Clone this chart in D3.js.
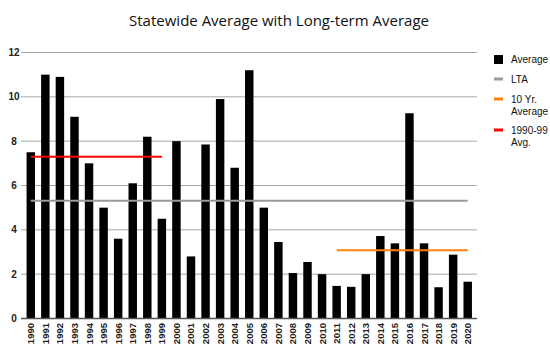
<!DOCTYPE html>
<html>
<head>
    <script src="https://d3js.org/d3.v7.min.js"></script>
    <style>
        body {margin: 0; background: #fff;}
        svg {display: block;}
    </style>
</head>
<body>
    <svg width="550" height="354"></svg>
    <script>
        // data
        let years = d3.range(1990, 2021).map(String);
        let averages = [7.5, 11.0, 10.9, 9.1, 7.0, 5.0, 3.6, 6.1, 8.2, 4.5,
                        8.0, 2.8, 7.85, 9.9, 6.8, 11.2, 5.0, 3.45, 2.05, 2.55,
                        2.0, 1.47, 1.43, 2.0, 3.72, 3.39, 9.26, 3.39, 1.41, 2.88, 1.66];
        let yTicks = [0, 2, 4, 6, 8, 10, 12];
        let lta = 5.31;
        let tenYrAvg = 3.08;
        let nineties = 7.3;

        let svg = d3.select("svg");
        let plotLeft = 21, plotRight = 477, plotTop = 52.5, plotBottom = 318.5;

        let x = d3.scaleBand().domain(years).range([23.5, 475]).paddingInner(0.42).paddingOuter(0.21);
        let y = d3.scaleLinear().domain([0, 12]).range([plotBottom, plotTop]);

        // title
        svg.append("text")
            .attr("x", 279).attr("y", 26)
            .attr("text-anchor", "middle")
            .style("font-family", "'Open Sans', sans-serif")
            .style("font-size", "15px")
            .attr("fill", "#111")
            .text("Statewide Average with Long-term Average");

        // gridlines
        svg.selectAll(".grid")
            .data(yTicks.filter(d => d > 0))
            .enter()
            .append("line")
            .attr("x1", plotLeft).attr("x2", plotRight)
            .attr("y1", d => y(d)).attr("y2", d => y(d))
            .attr("stroke", "#a6a6a6").attr("stroke-width", 1);

        // y tick labels
        svg.selectAll(".ylab")
            .data(yTicks)
            .enter()
            .append("text")
            .attr("x", 14).attr("y", d => y(d) + 3.5)
            .attr("text-anchor", "middle")
            .style("font-family", "'Liberation Sans', Arial, sans-serif")
            .style("font-size", "10px")
            .style("font-weight", "bold")
            .attr("fill", "#222")
            .text(d => d);

        // bars
        svg.selectAll(".bar")
            .data(averages)
            .enter()
            .append("rect")
            .attr("x", (d, i) => x(years[i]))
            .attr("width", x.bandwidth())
            .attr("y", d => y(d))
            .attr("height", d => y(0) - y(d))
            .attr("fill", "#000");

        // x axis line
        svg.append("line")
            .attr("x1", plotLeft).attr("x2", plotRight)
            .attr("y1", plotBottom).attr("y2", plotBottom)
            .attr("stroke", "#555").attr("stroke-width", 1.5);

        // x labels
        svg.selectAll(".xlab")
            .data(years)
            .enter()
            .append("text")
            .attr("transform", d => `translate(${x(d) + x.bandwidth() / 2 + 3.5},${plotBottom + 4.5}) rotate(-90)`)
            .attr("text-anchor", "end")
            .style("font-family", "'Liberation Sans', Arial, sans-serif")
            .style("font-size", "9.5px")
            .style("font-weight", "bold")
            .attr("fill", "#222")
            .text(d => d);

        // average lines
        let cx = d => x(d) + x.bandwidth() / 2;
        let avgLines = [
            {from: "1990", to: "2020", v: lta, color: "#9a9a9a"},
            {from: "2011", to: "2020", v: tenYrAvg, color: "#ff7f0e"},
            {from: "1990", to: "1999", v: nineties, color: "#ff0000"}
        ];
        svg.selectAll(".avg")
            .data(avgLines)
            .enter()
            .append("line")
            .attr("x1", d => cx(d.from)).attr("x2", d => cx(d.to))
            .attr("y1", d => y(d.v)).attr("y2", d => y(d.v))
            .attr("stroke", d => d.color).attr("stroke-width", 2);

        // legend
        let lg = svg.append("g")
            .style("font-family", "'Liberation Sans', Arial, sans-serif")
            .style("font-size", "10px")
            .attr("fill", "#111");
        lg.append("rect").attr("x", 494).attr("y", 55).attr("width", 9).attr("height", 9).attr("fill", "#000");
        lg.append("text").attr("x", 511).attr("y", 63).text("Average");
        let legItems = [
            {y: 79, color: "#9a9a9a", lines: ["LTA"]},
            {y: 99, color: "#ff7f0e", lines: ["10 Yr.", "Average"]},
            {y: 130, color: "#ff0000", lines: ["1990-99", "Avg."]}
        ];
        legItems.forEach(d => {
            lg.append("rect").attr("x", 494).attr("y", d.y - 1.5).attr("width", 9).attr("height", 3).attr("fill", d.color);
            d.lines.forEach((t, k) => {
                lg.append("text").attr("x", 511).attr("y", d.y + 4 + k * 12).text(t);
            });
        });
    </script>
</body>
</html>
